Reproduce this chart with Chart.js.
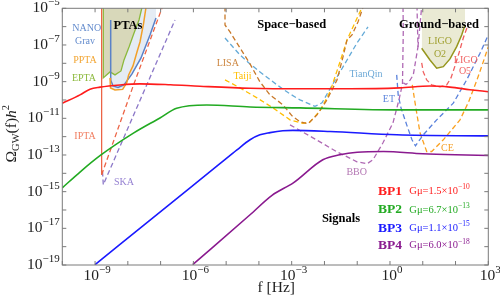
<!DOCTYPE html>
<html><head><meta charset="utf-8">
<script src="https://cdn.jsdelivr.net/npm/chart.js@4.4.1/dist/chart.umd.min.js"></script>
<style>html,body{margin:0;padding:0;background:#fff;}</style>
</head><body>
<canvas id="c" width="500" height="308"></canvas>
<script>
// ---- data: [log10 f, log10 Omega h^2] pairs ----
const bp1 = [[-10,-10.18],[-9.46,-9.72],[-9.155,-9.41],[-8.85,-9.30],[-8.24,-9.18],[-7.63,-9.12],[-6.7,-9.17],[-5.8,-9.25],[-4.27,-9.36],[-2.75,-9.39],[-1.22,-9.39],[0.3,-9.34],[1.22,-9.24],[1.83,-9.30],[2.44,-9.44],[3,-9.55]];
const bp2 = [[-10,-14.79],[-9.46,-13.93],[-8.85,-13.04],[-7.83,-11.81],[-7.02,-10.98],[-6.51,-10.45],[-5.59,-10.27],[-4.27,-10.38],[-2.75,-10.43],[0.3,-10.54],[3,-10.54]];
const bp3 = [[-9.0,-18.98],[-6.83,-15.84],[-5.2,-13.49],[-4.67,-12.72],[-4.27,-12.17],[-3.97,-11.90],[-3.66,-11.78],[-3.27,-11.68],[-2.96,-11.66],[-1.83,-11.72],[0.21,-11.9],[3,-11.96]];
const bp4 = [[-6.02,-18.98],[-4.27,-16.26],[-3.6,-15.2],[-2.95,-14.52],[-2.05,-13.26],[-1.53,-12.99],[-1.0,-12.85],[-0.2,-12.81],[1.0,-12.93],[2.0,-12.99],[3,-13.03]];

const iptaWall = [[-8.80,-4.9],[-8.80,-14.08]];
const iptaSlope = [[-8.80,-14.08],[-7.84,-9.25],[-6.96,-5.0],[-6.94,-4.9]];
const ska = [[-8.773,-13.9],[-8.749,-14.62],[-6.561,-5.64]];
const nanograv = [[-8.523,-5.637],[-8.523,-8.905],[-8.453,-9.232],[-8.300,-9.314],[-8.117,-9.178],[-7.873,-8.578],[-7.598,-7.707],[-7.324,-6.454],[-7.141,-5.528]];
const ppta = [[-8.544,-8.796],[-8.529,-9.341],[-8.392,-9.450],[-8.158,-9.423],[-8.036,-9.069],[-7.975,-8.633],[-7.843,-8.143],[-7.721,-7.380],[-7.629,-6.836],[-7.522,-5.855],[-7.446,-4.95]];
const epta = [[-8.749,-4.9],[-8.749,-8.796],[-8.544,-8.469],[-8.392,-8.633],[-8.209,-8.417],[-8.117,-7.816],[-7.964,-7.108],[-7.811,-6.345],[-7.659,-5.637],[-7.568,-4.95]];

const lisa = [[-5.035,-4.9],[-5.035,-5.910],[-4.882,-6.290],[-4.577,-7.162],[-4.272,-8.034],[-3.967,-9.014],[-3.662,-9.722],[-3.265,-10.267],[-2.990,-10.866],[-2.746,-11.193],[-2.502,-11.302],[-2.228,-10.812],[-1.922,-9.995],[-1.617,-8.905],[-1.434,-7.653],[-1.312,-6.727],[-1.160,-6.454],[-0.977,-5.746],[-0.824,-4.95]];
const taiji = [[-5.035,-8.905],[-4.577,-9.341],[-4.058,-9.886],[-3.570,-10.430],[-3.052,-11.084],[-2.655,-11.275],[-2.441,-11.193],[-2.136,-10.594],[-1.831,-9.559],[-1.526,-7.925],[-1.312,-6.727],[-1.129,-6.019],[-0.854,-4.95]];
const tianqin = [[-5.035,-6.618],[-4.577,-7.544],[-4.272,-8.034],[-3.967,-8.469],[-3.448,-9.178],[-3.052,-9.668],[-2.746,-9.995],[-2.289,-10.349],[-2.075,-10.158],[-1.831,-9.395],[-1.434,-8.197],[-1.007,-6.890],[-0.671,-6.018]];
const bbo = [[-3.052,-11.356],[-2.350,-12.064],[-1.618,-12.827],[-1.007,-13.371],[-0.702,-13.480],[-0.519,-13.262],[-0.214,-12.336],[0.091,-11.247],[0.274,-9.995],[0.381,-9.123],[0.406,-6.182],[0.397,-4.9]];
const bboB = [[0.406,-9.069],[0.488,-9.150],[0.580,-9.014],[0.711,-8.633],[0.854,-7.108],[0.824,-4.9]];
const bboC = [[0.854,-7.108],[0.967,-4.9]];
const et = [[0.204,-8.633],[0.25,-9.72],[0.336,-10.430],[0.510,-11.356],[0.671,-12.173],[0.778,-12.50],[1.016,-11.90],[1.425,-11.084],[1.931,-10.174],[2.340,-8.905],[2.747,-7.451],[3.0,-6.454]];
const ce = [[0.681,-9.178],[0.75,-9.99],[0.815,-10.703],[0.916,-11.792],[1.120,-12.810],[1.273,-12.810],[1.627,-12.173],[2.136,-11.084],[2.40,-10.1],[2.646,-8.95],[2.85,-7.9],[3.0,-7.1]];
const ligoO2 = [[0.967,-7.179],[1.220,-7.816],[1.425,-8.268],[1.627,-8.181],[1.831,-7.761],[2.035,-7.092],[2.188,-6.454],[2.289,-5.910]];
const ligoO5 = [[0.967,-7.979],[1.016,-8.469],[1.120,-8.905],[1.273,-9.178],[1.526,-9.286],[1.730,-9.178],[1.861,-8.797],[1.984,-8.143],[2.106,-7.435],[2.237,-6.618],[2.380,-5.910]];

// ---- axis ticks (exponents) ----
const xTickExp = [-10,-9,-8,-7,-6,-5,-4,-3,-2,-1,0,1,2,3];
const xLabelExp = [-9,-6,-3,0,3];
const yTickExp = [-19,-18,-17,-16,-15,-14,-13,-12,-11,-10,-9,-8,-7,-6,-5];
const yLabelExp = [-19,-17,-15,-13,-11,-9,-7,-5];

// ---- legend ----
const bpNames = ['BP1','BP2','BP3','BP4'];
const gmuMant = ['1.5','6.7','1.1','6.0'];
const gmuExp = ['−10','−13','−15','−18'];
const bpColors = ['#ff1c1c','#22aa22','#1a1aff','#8a1a8f'];

const SERIF = '"Liberation Serif","Times New Roman",serif';
const P = arr => arr.map(([a,b]) => ({x: Math.pow(10,a), y: Math.pow(10,b)}));

function line(data, color, width, dash, order, smooth){
  const d = {data: P(data), showLine: true, borderColor: color, borderWidth: width,
    borderDash: dash || [], pointRadius: 0, fill: false, order: order || 1, tension: 0};
  if (smooth) d.cubicInterpolationMode = 'monotone';
  return d;
}
function area(data, color, order){
  return {data: P(data), showLine: true, borderColor: 'rgba(0,0,0,0)', borderWidth: 0,
    backgroundColor: color, pointRadius: 0, fill: 'end', order: order, tension: 0};
}
const D = [5,3];
const datasets = [
  area(ppta, 'rgb(229,236,244)', 30),
  area(nanograv, 'rgb(229,236,244)', 30),
  area(epta, 'rgb(216,216,186)', 29),
  area(ligoO2, 'rgb(234,234,212)', 29),
  line(iptaWall, 'rgb(236,100,70)', 1.3, null, 5),
  line(iptaSlope, 'rgb(236,100,70)', 1.3, D, 5),
  line(ska, 'rgb(140,120,200)', 1.3, D, 5),
  line(epta, 'rgb(140,185,60)', 1.3, null, 5),
  line(ppta, 'rgb(242,160,40)', 1.5, null, 4),
  line(nanograv, 'rgb(90,130,200)', 1.5, null, 4),
  line(lisa, 'rgb(200,120,40)', 1.3, D, 5),
  line(taiji, 'rgb(255,190,0)', 1.3, D, 5),
  line(tianqin, 'rgb(100,170,215)', 1.3, D, 5),
  line(bbo, 'rgb(175,105,180)', 1.3, D, 5),
  line(bboB, 'rgb(175,105,180)', 1.3, D, 5),
  line(bboC, 'rgb(175,105,180)', 1.3, D, 5),
  line(et, 'rgb(90,130,220)', 1.3, D, 5),
  line(ce, 'rgb(250,160,30)', 1.3, D, 5),
  line(ligoO2, 'rgb(150,150,30)', 1.5, null, 5),
  line(ligoO5, 'rgb(240,95,95)', 1.3, D, 5),
  line(bp1, bpColors[0], 1.6, null, 2, true),
  line(bp2, bpColors[1], 1.6, null, 2, true),
  line(bp3, bpColors[2], 1.6, null, 2, true),
  line(bp4, bpColors[3], 1.6, null, 2, true)
];

// text labels placed in data coordinates (exponents)
const labels = [
  ['PTAs', -7.995, -5.964, '#000', 'bold 12.5px'],
  ['Space−based', -3.0, -5.91, '#000', 'bold 12.5px'],
  ['Ground−based', 1.495, -5.91, '#000', 'bold 12.5px'],
  ['NANO', -9.255, -6.089, 'rgb(100,140,205)', '10px'],
  ['Grav', -9.307, -6.819, 'rgb(100,140,205)', '10px'],
  ['PPTA', -9.307, -7.816, 'rgb(242,165,50)', '10px'],
  ['EPTA', -9.338, -8.813, 'rgb(140,185,60)', '10px'],
  ['IPTA', -9.307, -11.993, 'rgb(240,125,95)', '10px'],
  ['SKA', -8.117, -14.477, 'rgb(150,130,210)', '10px'],
  ['LISA', -4.95, -7.996, 'rgb(205,135,65)', '10px'],
  ['Taiji', -4.501, -8.725, 'rgb(255,190,0)', '10px'],
  ['TianQin', -0.733, -8.578, 'rgb(110,170,215)', '10px'],
  ['ET', -0.031, -9.956, 'rgb(95,135,220)', '10px'],
  ['CE', 1.755, -12.625, 'rgb(245,160,40)', '10px'],
  ['BBO', -1.016, -13.932, 'rgb(180,120,180)', '10px'],
  ['LIGO', 1.526, -6.819, 'rgb(160,160,50)', '10px'],
  ['O2', 1.526, -7.489, 'rgb(160,160,50)', '10px'],
  ['LIGO', 2.313, -7.816, 'rgb(240,100,100)', '10px'],
  ['O5', 2.289, -8.453, 'rgb(240,100,100)', '10px'],
  ['Signals', -1.495, -16.492, '#000', 'bold 12.5px']
];
const legendY = [-14.99, -15.996, -16.983, -17.946];

function supText(ctx, base, sup, x, y, align, bs, ss, color, rise, weight){
  const w0 = weight ? weight + ' ' : '';
  ctx.font = w0 + bs + 'px ' + SERIF; const wb = ctx.measureText(base).width;
  ctx.font = ss + 'px ' + SERIF; const ws = ctx.measureText(sup).width;
  const w = wb + ws;
  const x0 = align === 'right' ? x - w : (align === 'center' ? x - w/2 : x);
  ctx.fillStyle = color; ctx.textAlign = 'left'; ctx.textBaseline = 'middle';
  ctx.font = w0 + bs + 'px ' + SERIF; ctx.fillText(base, x0, y);
  ctx.font = ss + 'px ' + SERIF; ctx.fillText(sup, x0 + wb, y - rise);
}

const decor = {
  id: 'decor',
  afterDatasetsDraw(chart){
    const {ctx, chartArea: a} = chart;
    const xs = chart.scales.x, ys = chart.scales.y;
    const X = e => xs.getPixelForValue(Math.pow(10, e));
    const Y = e => ys.getPixelForValue(Math.pow(10, e));
    ctx.save();
    ctx.strokeStyle = '#7a7a7a'; ctx.lineWidth = 1;
    ctx.strokeRect(a.left, a.top, a.right - a.left, a.bottom - a.top);
    ctx.beginPath();
    xTickExp.forEach(e => { const p = X(e);
      ctx.moveTo(p, a.bottom); ctx.lineTo(p, a.bottom - 4);
      ctx.moveTo(p, a.top); ctx.lineTo(p, a.top + 4); });
    yTickExp.forEach(e => { const p = Y(e);
      ctx.moveTo(a.left, p); ctx.lineTo(a.left + 4, p);
      ctx.moveTo(a.right, p); ctx.lineTo(a.right - 4, p); });
    ctx.stroke();
    // tick labels
    xLabelExp.forEach(e => supText(ctx, '10', (e < 0 ? '−' + (-e) : '' + e), X(e) + 2, a.bottom + 11, 'center', 15.5, 11, '#222', 6));
    yLabelExp.forEach(e => supText(ctx, '10', '−' + (-e), a.left - 2.5, Y(e), 'right', 15.5, 11, '#222', 6));
    // axis titles
    ctx.fillStyle = '#222'; ctx.textAlign = 'center'; ctx.textBaseline = 'middle';
    ctx.font = '15.5px ' + SERIF; ctx.fillText('f [Hz]', (a.left + a.right) / 2 + 1, a.bottom + 23);
    // rotated y title
    ctx.save();
    ctx.translate(12, (a.top + a.bottom) / 2 - 3); ctx.rotate(-Math.PI / 2);
    const parts = [['Ω', 15.5, 0, ''], ['GW', 10.5, 4, ''], ['(f)', 15.5, 0, ''], ['h', 15.5, 0, 'italic '], ['2', 10.5, -6, '']];
    let tw = 0;
    parts.forEach(p => { ctx.font = p[3] + p[1] + 'px ' + SERIF; p.push(ctx.measureText(p[0]).width); tw += p[4]; });
    let cx = -tw / 2; ctx.textAlign = 'left';
    parts.forEach(p => { ctx.font = p[3] + p[1] + 'px ' + SERIF; ctx.fillText(p[0], cx, p[2]); cx += p[4]; });
    ctx.restore();
    // labels
    ctx.textAlign = 'center'; ctx.textBaseline = 'middle';
    labels.forEach(([t, lf, lo, col, f]) => {
      ctx.font = f + ' ' + SERIF; ctx.fillStyle = col; ctx.fillText(t, X(lf), Y(lo));
    });
    // legend
    bpNames.forEach((n, i) => {
      ctx.font = 'bold 13.5px ' + SERIF; ctx.fillStyle = bpColors[i]; ctx.textAlign = 'center';
      ctx.fillText(n, X(0.0), Y(legendY[i]));
      supText(ctx, 'Gμ=' + gmuMant[i] + '×10', gmuExp[i], X(0.589), Y(legendY[i]), 'left', 10.5, 7.5, bpColors[i], 4);
    });
    ctx.restore();
  }
};

new Chart(document.getElementById('c'), {
  type: 'scatter',
  data: {datasets},
  options: {
    responsive: false, animation: false, devicePixelRatio: 1,
    layout: {padding: {left: 62.3, right: 11.7, top: 8.3, bottom: 43}},
    plugins: {legend: {display: false}, tooltip: {enabled: false}},
    scales: {
      x: {type: 'logarithmic', min: 1e-10, max: 1e3, display: false},
      y: {type: 'logarithmic', min: 1e-19, max: 1e-5, display: false}
    }
  },
  plugins: [decor]
});
</script>
</body></html>
